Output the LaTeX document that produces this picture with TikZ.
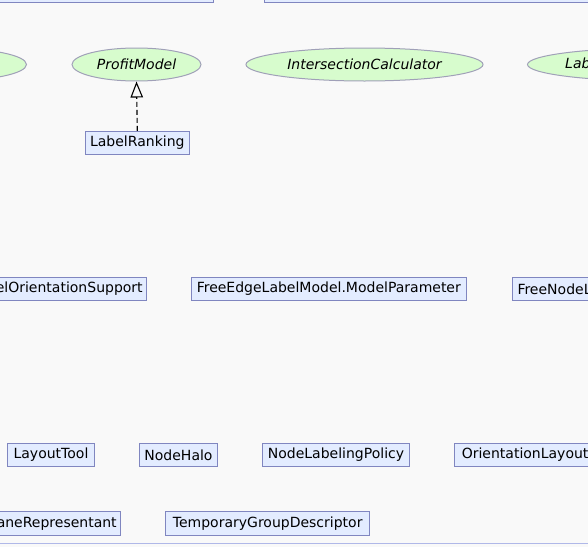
\documentclass[tikz,border=0pt]{standalone}
\usepackage{fontspec}
\setmainfont{DejaVu Sans}
\usetikzlibrary{arrows.meta,shapes.geometric}
\definecolor{bgc}{RGB}{249,249,249}
\definecolor{boxfill}{RGB}{227,236,255}
\definecolor{boxline}{RGB}{128,134,192}
\definecolor{ellfill}{RGB}{215,252,205}
\definecolor{ellline}{RGB}{160,160,184}
\definecolor{frameline}{RGB}{176,184,232}
\tikzset{
  classbox/.style={draw=boxline, fill=boxfill, line width=1pt, rectangle, inner sep=0pt,
    minimum height=23pt, font=\fontsize{14pt}{16pt}\selectfont, text=black},
  edgebox/.style={classbox, inner xsep=3.5pt},
  iface/.style={draw=ellline, fill=ellfill, line width=1pt, ellipse, inner sep=0pt,
    minimum height=33pt, font=\fontsize{14pt}{16pt}\selectfont\itshape, text=black},
  realize/.style={draw=black, line width=1.1pt, dash pattern=on 5pt off 3pt,
    -{Triangle[open, length=16pt, width=12.5pt, line width=1.1pt]}}
}
\begin{document}
\begin{tikzpicture}[x=1pt, y=-1pt]
\useasboundingbox (0,0) rectangle (588,546);
\fill[bgc] (0,0) rectangle (588,546);
\clip (0,0) rectangle (588,546);

% top boxes (cut off)
\node[classbox, minimum width=230pt, minimum height=40pt, anchor=south east] (topA) at (214,3.3) {};
\node[classbox, minimum width=340pt, minimum height=40pt, anchor=south west] (topB) at (264,3.3) {};

% interfaces
\node[iface, minimum width=160pt, anchor=east] (leftIf) at (27,64.5) {};
\node[iface, minimum width=129pt] (profit) at (136.5,64.5) {ProfitModel};
\node[iface, minimum width=237pt] (inter) at (364.5,64.5) {IntersectionCalculator};
\node[iface, anchor=west, text width=182pt, align=left] (labIf) at (527,64.5) {LabelLayoutKeys};

% LabelRanking
\node[classbox, minimum width=104pt] (ranking) at (137.3,142.8) {LabelRanking};
\draw[realize] (ranking.north) -- (profit.south);

% row 2
\node[edgebox, anchor=east] (orient) at (146.7,288.8) {EdgeLabelOrientationSupport};
\node[classbox, minimum width=275pt] (freeEdge) at (328.8,288.8) {FreeEdgeLabelModel.ModelParameter};
\node[edgebox, anchor=west, inner xsep=5pt] (freeNode) at (512,288.8) {FreeNodeLabelModel.ModelParameter};

% row 3
\node[classbox, minimum width=87.4pt] (tool) at (51,454.8) {LayoutTool};
\node[classbox, minimum width=78.4pt] (halo) at (178.5,454.8) {NodeHalo};
\node[classbox, minimum width=147.4pt] (policy) at (336,454.8) {NodeLabelingPolicy};
\node[edgebox, anchor=west, inner xsep=7pt] (orientLay) at (454.3,454.8) {OrientationLayouter};

% row 4
\node[edgebox, anchor=east, minimum height=23.5pt] (swim) at (120.7,523.3) {SwimLaneRepresentant};
\node[classbox, minimum width=204pt, minimum height=23.5pt] (tempGroup) at (267.7,523.3) {TemporaryGroupDescriptor};

% bottom frame (cut off)
\node[draw=frameline, fill=bgc, line width=1pt, rectangle, minimum width=640pt, minimum height=40pt, anchor=north] (bottomFrame) at (294,543) {};
\end{tikzpicture}
\end{document}
